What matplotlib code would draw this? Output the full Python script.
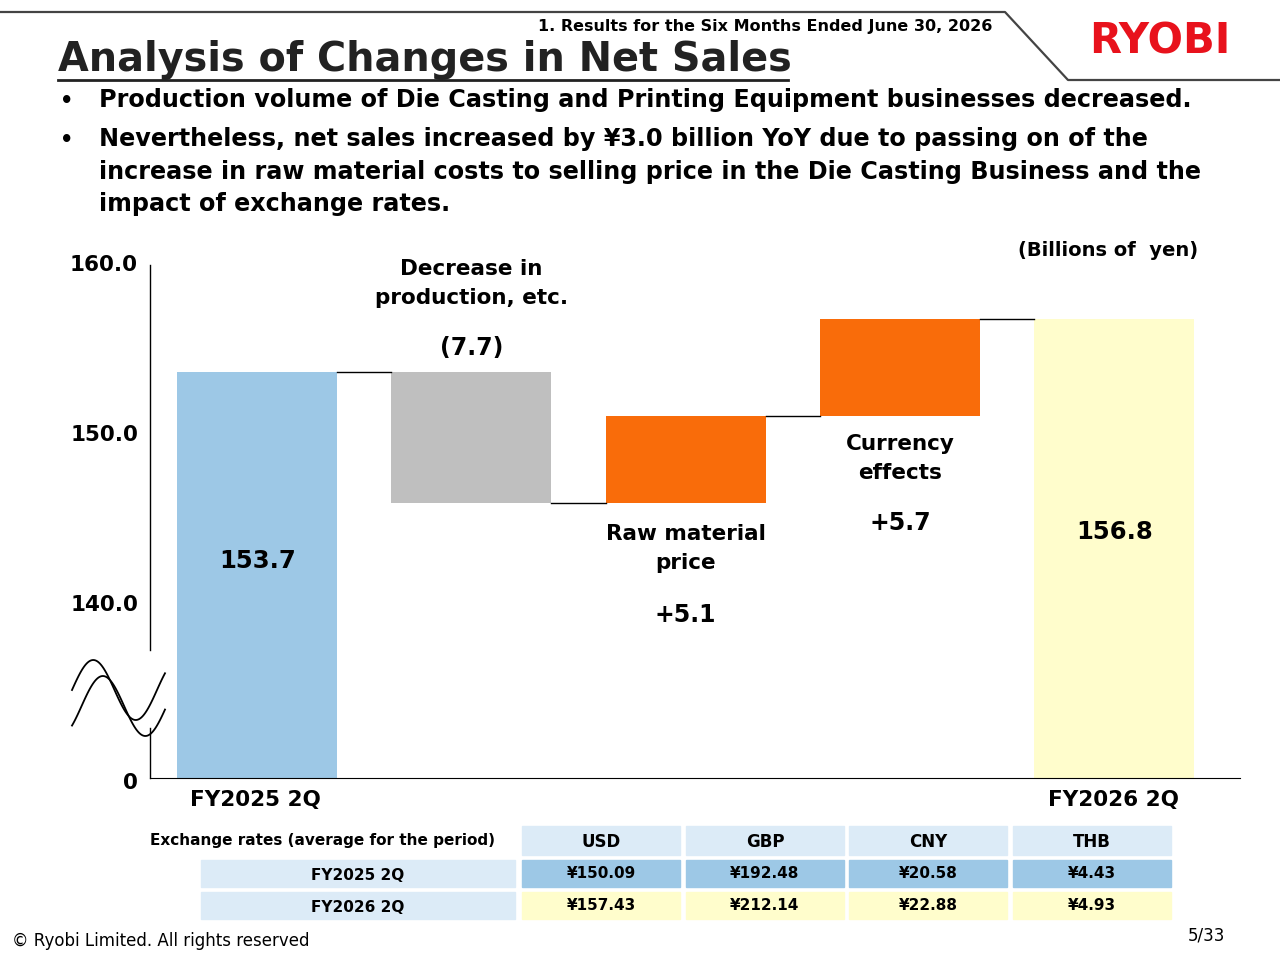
import numpy as np
import matplotlib.pyplot as plt
from matplotlib.patches import Rectangle

# waterfall data (billions of yen)
steps = ['FY2025 2Q', 'Decrease in\nproduction, etc.', 'Raw material\nprice', 'Currency\neffects', 'FY2026 2Q']
changes = [153.7, -7.7, 5.1, 5.7, 156.8]
change_labels = ['153.7', '(7.7)', '+5.1', '+5.7', '156.8']
colors = ['#9dc8e6', '#bfbfbf', '#f96c0a', '#f96c0a', '#fffdcc']

# exchange rate table
currencies = ['USD', 'GBP', 'CNY', 'THB']
rates_2025 = ['¥150.09', '¥192.48', '¥20.58', '¥4.43']
rates_2026 = ['¥157.43', '¥212.14', '¥22.88', '¥4.93']

base = 129.8
fig = plt.figure(figsize=(12.8, 9.6), dpi=100)

# overlay in pixel coords
bg = fig.add_axes([0, 0, 1, 1])
bg.set_xlim(0, 1280); bg.set_ylim(960, 0); bg.axis('off')

# header line
bg.plot([0, 1005, 1068, 1280], [12, 12, 80, 80], color='#444444', lw=1.6)
bg.text(992, 26, '1. Results for the Six Months Ended June 30, 2026', ha='right', va='center',
        fontsize=11.5, fontweight='bold')
bg.text(1160, 42, 'RYOBI', ha='center', va='center', fontsize=30, fontweight='bold',
        color='#e8121c', family='DejaVu Sans')
bg.text(58, 60, 'Analysis of Changes in Net Sales', ha='left', va='center',
        fontsize=28.6, fontweight='bold', color='#222222')
bg.plot([58, 788], [80, 80], color='#222222', lw=2)

bullets = [(101, 'Production volume of Die Casting and Printing Equipment businesses decreased.'),
           (140, 'Nevertheless, net sales increased by ¥3.0 billion YoY due to passing on of the\n'
                 'increase in raw material costs to selling price in the Die Casting Business and the\n'
                 'impact of exchange rates.')]
for y, t in bullets:
    bg.text(60, y, '•', ha='left', va='center', fontsize=15, fontweight='bold')
    bg.text(99, y - 13, t, ha='left', va='top', fontsize=17.2, fontweight='bold',
            linespacing=1.45)

bg.text(1198, 250, '(Billions of  yen)', ha='right', va='center', fontsize=14, fontweight='bold')

# y axis labels
for v, y in [('160.0', 265), ('150.0', 435), ('140.0', 605), ('0', 783)]:
    bg.text(138, y, v, ha='right', va='center', fontsize=15.5, fontweight='bold')
bg.plot([150, 150], [265, 650], color='black', lw=1)
bg.plot([150, 150], [728, 778], color='black', lw=1)
xs = np.linspace(72, 165, 100)
for off in (0, 16):
    bg.plot(xs, 690 + off - 30 * np.sin((xs - 72 - off * 0.6) / 85 * 2 * np.pi),
            color='black', lw=1.3)

# main waterfall axes
ax = fig.add_axes([150 / 1280, 1 - 778 / 960, 1090 / 1280, (778 - 265) / 960])
ax.patch.set_alpha(0)
ax.set_xlim(-0.5, 4.587)
ax.set_ylim(base, 160)
for s in ['top', 'right', 'left']:
    ax.spines[s].set_visible(False)
ax.set_xticks([]); ax.set_yticks([])

level = 0
tops = []
for i, c in enumerate(changes):
    if i == 0 or i == len(changes) - 1:
        lo, hi = base, c
        level = c
    else:
        lo, hi = sorted([level, level + c])
        level += c
    tops.append(level)
    ax.bar(i, hi - lo, bottom=lo, width=0.747, color=colors[i])
for i in range(len(changes) - 1):
    ax.plot([i + 0.3735, i + 1 - 0.3735], [tops[i], tops[i]], color='black', lw=1)

bold = dict(ha='center', va='center', fontweight='bold')
ax.text(0, 142.6, change_labels[0], fontsize=17.5, **bold)
ax.text(4, 144.3, change_labels[4], fontsize=17.5, **bold)
ax.text(1, 158.9, steps[1], fontsize=15.5, linespacing=1.6, **bold)
ax.text(1, 155.1, change_labels[1], fontsize=17, **bold)
ax.text(2, 143.3, steps[2], fontsize=15.5, linespacing=1.6, **bold)
ax.text(2, 139.4, change_labels[2], fontsize=17, **bold)
ax.text(3, 148.6, steps[3], fontsize=15.5, linespacing=1.6, **bold)
ax.text(3, 144.8, change_labels[3], fontsize=17, **bold)

bg.text(255, 800, steps[0], fontsize=15.5, **bold)
bg.text(1114, 800, steps[4], fontsize=15.5, **bold)

# exchange rate table
bg.text(322, 841, 'Exchange rates (average for the period)', fontsize=11, **bold)
col_x = [522, 686, 849, 1013]
cw = 158
for j, cur in enumerate(currencies):
    bg.add_patch(Rectangle((col_x[j], 826), cw, 29, color='#dcebf7'))
    bg.text(col_x[j] + cw / 2, 842, cur, fontsize=12, **bold)
    bg.add_patch(Rectangle((col_x[j], 860), cw, 27, color='#9dc8e6'))
    bg.text(col_x[j] + cw / 2, 874, rates_2025[j], fontsize=11, **bold)
    bg.add_patch(Rectangle((col_x[j], 892), cw, 27, color='#fffdcc'))
    bg.text(col_x[j] + cw / 2, 906, rates_2026[j], fontsize=11, **bold)
for y, lab in [(860, 'FY2025 2Q'), (892, 'FY2026 2Q')]:
    bg.add_patch(Rectangle((201, y), 314, 27, color='#dcebf7'))
    bg.text(358, y + 16, lab, fontsize=11, **bold)

bg.text(12, 941, '© Ryobi Limited. All rights reserved', ha='left', va='center', fontsize=12)
bg.text(1225, 936, '5/33', ha='right', va='center', fontsize=12)

fig.savefig('out.png', dpi=100)
